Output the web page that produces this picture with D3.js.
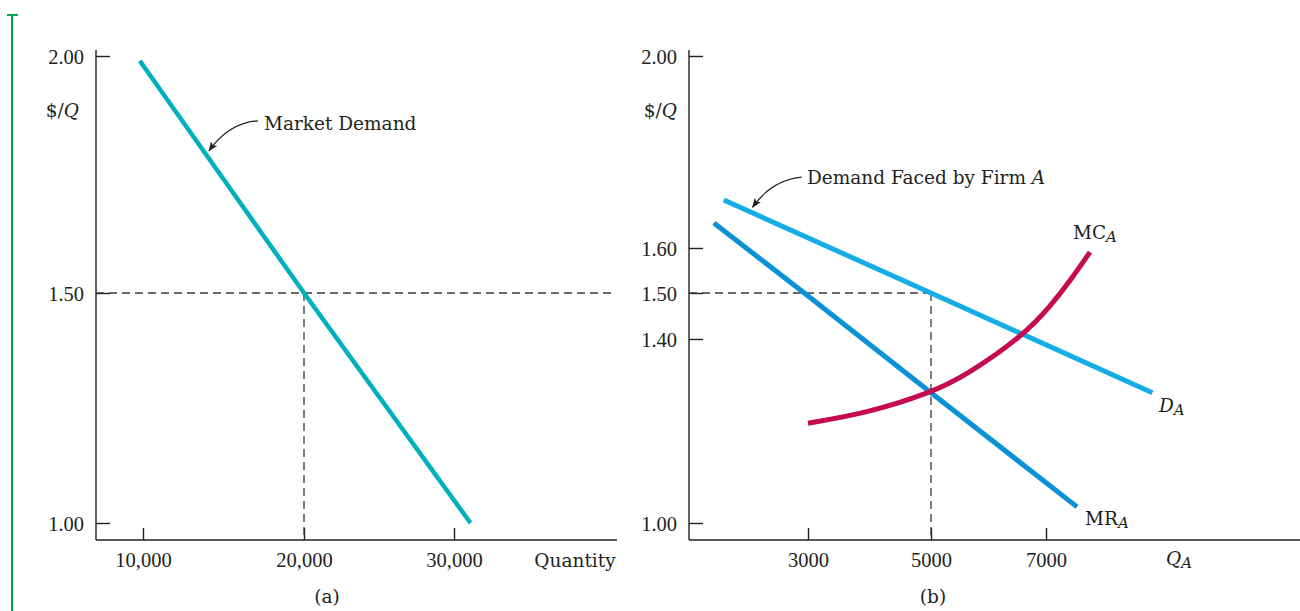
<!DOCTYPE html>
<html>
<head>
<meta charset="utf-8">
<script src="https://cdn.jsdelivr.net/npm/d3@7"></script>
<style>
  html, body { margin: 0; padding: 0; background: #fff; }
  svg { display: block; }
</style>
</head>
<body>
<svg id="chart" width="1300" height="611"></svg>
<script>
// ---------- DATA ----------
// Panel (a): market demand
const yTicksA = [1.00, 1.50, 2.00];
const xTicksA = [10000, 20000, 30000];
const demandQ = [9800, 20000, 31100];
const demandP = [1.99, 1.50, 1.00];
const eqA = { q: 20000, p: 1.50 };

// Panel (b): firm A
const yTicksB = [1.00, 1.40, 1.50, 1.60, 2.00];
const xTicksB = [3000, 5000, 7000];
const dAQ = [1630, 5000, 8850];
const dAP = [1.70, 1.50, 1.283];
const mrQ = [1470, 2940, 5000, 7540];
const mrP = [1.652, 1.50, 1.283, 1.035];
const mcQ = [3000, 3960, 5000, 5626, 6600, 7070, 7470, 7765];
const mcP = [1.217, 1.239, 1.283, 1.322, 1.407, 1.47, 1.536, 1.591];
const eqB = { q: 5000, p: 1.50 };

// ---------- STYLE ----------
const INK = "#231f20";
const NUMFONT = "'Liberation Serif', serif";
const TXTFONT = "'DejaVu Serif', serif";
const C_MKT = "#00b0ba";
const C_DA = "#14ade6";
const C_MR = "#0a92d4";
const C_MC = "#c60a4f";

const svg = d3.select("#chart");

// marker
svg.append("defs").append("marker")
  .attr("id", "arrow").attr("viewBox", "0 0 10 10")
  .attr("refX", 9).attr("refY", 5)
  .attr("markerWidth", 10).attr("markerHeight", 10)
  .attr("markerUnits", "userSpaceOnUse")
  .attr("orient", "auto")
  .append("path").attr("d", "M0,1.2 L10,5 L0,8.8 L2.5,5 Z").attr("fill", INK);

// green side bar
svg.append("line").attr("x1", 12).attr("x2", 12).attr("y1", 15).attr("y2", 611)
  .attr("stroke", "#00a651").attr("stroke-width", 2);
svg.append("line").attr("x1", 7).attr("x2", 18).attr("y1", 15).attr("y2", 15)
  .attr("stroke", "#00a651").attr("stroke-width", 2);

// ---------- helpers ----------
function drawAxes(g, x, y, xTicks, yTicks, xFmt, axisX, axisTop, axisBottom, axisRight) {
  g.append("line").attr("x1", axisX).attr("x2", axisX).attr("y1", axisTop).attr("y2", axisBottom)
    .attr("stroke", INK).attr("stroke-width", 1.4);
  g.append("line").attr("x1", axisX).attr("x2", axisRight).attr("y1", axisBottom).attr("y2", axisBottom)
    .attr("stroke", INK).attr("stroke-width", 1.4);

  const ya = g.append("g").attr("transform", `translate(${axisX},0)`)
    .call(d3.axisLeft(y).tickValues(yTicks).tickFormat(d3.format(".2f"))
      .tickSizeInner(-14).tickSizeOuter(0).tickPadding(12));
  ya.select(".domain").remove();
  ya.selectAll("line").attr("stroke", INK).attr("stroke-width", 1.4);
  ya.selectAll("text").attr("font-family", NUMFONT).attr("font-size", 20.5)
    .attr("fill", INK).attr("dy", "0.36em");

  const xa = g.append("g").attr("transform", `translate(0,${axisBottom})`)
    .call(d3.axisBottom(x).tickValues(xTicks).tickFormat(xFmt)
      .tickSizeInner(-12).tickSizeOuter(0).tickPadding(12));
  xa.select(".domain").remove();
  xa.selectAll("line").attr("stroke", INK).attr("stroke-width", 1.4);
  xa.selectAll("text").attr("font-family", NUMFONT).attr("font-size", 20.5).attr("fill", INK);
}

function text(g, x, y, str, opts = {}) {
  return g.append("text").attr("x", x).attr("y", y)
    .attr("font-family", opts.font || TXTFONT)
    .attr("font-size", opts.size || 18.5)
    .attr("fill", INK)
    .attr("text-anchor", opts.anchor || "start")
    .attr("dominant-baseline", "central")
    .text(str);
}

function labelWithSub(g, x, y, main, sub, italicMain) {
  const t = g.append("text").attr("x", x).attr("y", y)
    .attr("font-family", TXTFONT).attr("font-size", 18.5).attr("fill", INK)
    .attr("dominant-baseline", "central");
  t.append("tspan").attr("font-style", italicMain ? "italic" : "normal").text(main);
  t.append("tspan").attr("font-style", "italic").attr("font-size", 15).attr("dy", 5).text(sub);
  return t;
}

const dash = "8,5";

// ================= PANEL A =================
const gA = svg.append("g");
const xA = d3.scaleLinear().domain(xTicksA).range([143, 304, 454]);
const yA = d3.scaleLinear().domain([1.0, 1.5, 2.0]).range([523, 293, 56]);
const axA = { x: 96, top: 50, bottom: 540, right: 617 };

drawAxes(gA, xA, yA, xTicksA, yTicksA, d3.format(","), axA.x, axA.top, axA.bottom, axA.right);

gA.append("line").attr("x1", axA.x).attr("x2", 612).attr("y1", yA(eqA.p)).attr("y2", yA(eqA.p))
  .attr("stroke", "#3a3a3a").attr("stroke-width", 1.3).attr("stroke-dasharray", dash);
gA.append("line").attr("x1", xA(eqA.q)).attr("x2", xA(eqA.q)).attr("y1", yA(eqA.p)).attr("y2", axA.bottom)
  .attr("stroke", "#3a3a3a").attr("stroke-width", 1.3).attr("stroke-dasharray", dash);

const lineA = d3.line().x((d, i) => xA(demandQ[i])).y((d, i) => yA(demandP[i]));
gA.append("path").attr("d", lineA(demandQ)).attr("fill", "none")
  .attr("stroke", C_MKT).attr("stroke-width", 4.5);

{
  const t = text(gA, 79, 110, "$/", { anchor: "end" });
  t.append("tspan").attr("font-style", "italic").text("Q");
}
text(gA, 264, 123, "Market Demand");
{
  const tip = [xA(14100), yA(1.80)];
  gA.append("path")
    .attr("d", `M${tip[0] + 49},${tip[1] - 30} Q${tip[0] + 20},${tip[1] - 28} ${tip[0]},${tip[1]}`)
    .attr("fill", "none").attr("stroke", INK).attr("stroke-width", 1.2)
    .attr("marker-end", "url(#arrow)");
}
text(gA, 575, 560, "Quantity", { anchor: "middle" });
text(gA, 327, 596, "(a)", { anchor: "middle" });

// ================= PANEL B =================
const gB = svg.append("g");
const xB = d3.scaleLinear().domain(xTicksB).range([808, 931, 1046]);
const yB = d3.scaleLinear().domain([1.0, 1.4, 1.5, 1.6, 2.0]).range([523, 339, 293, 248, 56]);
const axB = { x: 689, top: 50, bottom: 540, right: 1300 };

drawAxes(gB, xB, yB, xTicksB, yTicksB, d3.format("d"), axB.x, axB.top, axB.bottom, axB.right);

gB.append("line").attr("x1", axB.x).attr("x2", xB(eqB.q)).attr("y1", yB(eqB.p)).attr("y2", yB(eqB.p))
  .attr("stroke", "#3a3a3a").attr("stroke-width", 1.3).attr("stroke-dasharray", dash);
gB.append("line").attr("x1", xB(eqB.q)).attr("x2", xB(eqB.q)).attr("y1", yB(eqB.p)).attr("y2", axB.bottom)
  .attr("stroke", "#3a3a3a").attr("stroke-width", 1.3).attr("stroke-dasharray", dash);

const mk = (Q, P) => d3.line().x((d, i) => xB(Q[i])).y((d, i) => yB(P[i]));
gB.append("path").attr("d", mk(dAQ, dAP)(dAQ)).attr("fill", "none")
  .attr("stroke", C_DA).attr("stroke-width", 5);
gB.append("path").attr("d", mk(mrQ, mrP)(mrQ)).attr("fill", "none")
  .attr("stroke", C_MR).attr("stroke-width", 5);
gB.append("path").attr("d", mk(mcQ, mcP).curve(d3.curveBasis)(mcQ)).attr("fill", "none")
  .attr("stroke", C_MC).attr("stroke-width", 5);

{
  const t = text(gB, 677, 110, "$/", { anchor: "end" });
  t.append("tspan").attr("font-style", "italic").text("Q");
}
{
  const t = gB.append("text").attr("x", 807).attr("y", 177)
    .attr("font-family", TXTFONT).attr("font-size", 18.5).attr("fill", INK)
    .attr("dominant-baseline", "central");
  t.append("tspan").text("Demand Faced by Firm ");
  t.append("tspan").attr("font-style", "italic").text("A");
  const tip = [xB(2100), yB(1.685)];
  gB.append("path")
    .attr("d", `M${tip[0] + 49},${tip[1] - 30} Q${tip[0] + 19},${tip[1] - 27} ${tip[0]},${tip[1]}`)
    .attr("fill", "none").attr("stroke", INK).attr("stroke-width", 1.2)
    .attr("marker-end", "url(#arrow)");
}
labelWithSub(gB, 1073, 232, "MC", "A", false);
labelWithSub(gB, 1159, 405, "D", "A", true);
labelWithSub(gB, 1085, 518, "MR", "A", false);
labelWithSub(gB, 1166, 558, "Q", "A", true);
text(gB, 933, 596, "(b)", { anchor: "middle" });
</script>
</body>
</html>
